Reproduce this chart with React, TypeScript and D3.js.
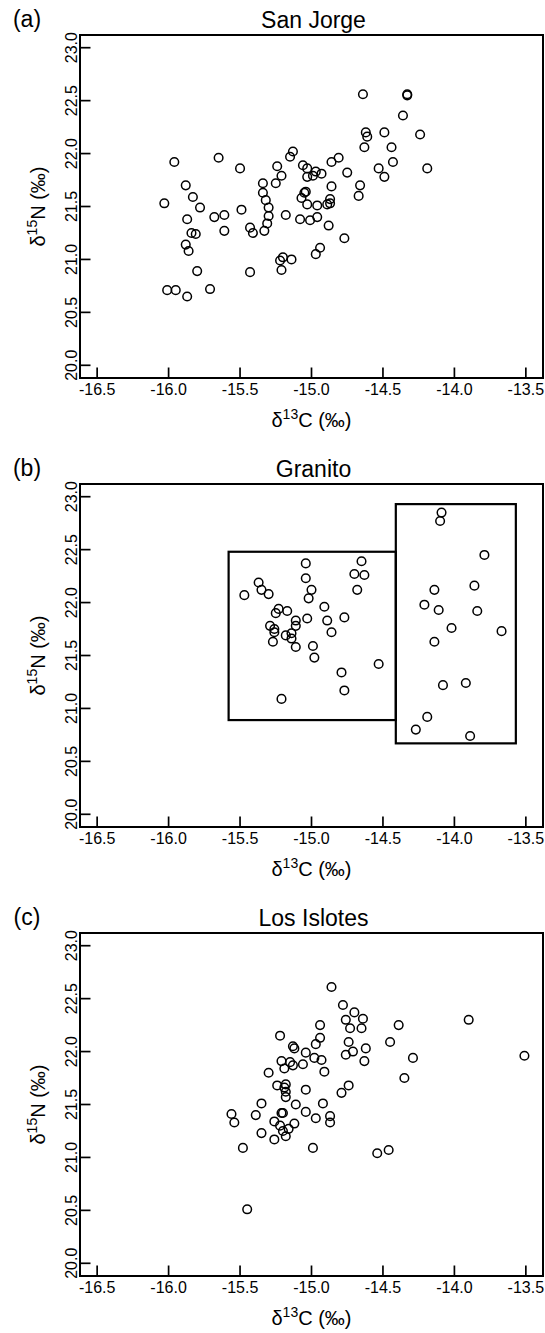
import * as d3 from 'd3'

// δ13C / δ15N values
const sanJorgeC = [
  -15.96, -15.65, -15.5, -15.13, -15.15, -15.24, -15.21, -15.25, -15.06, -15.03,
  -14.97, -14.93, -14.99, -15.03, -14.86, -14.81, -15.88, -15.83, -16.03, -15.78,
  -15.87, -15.84, -15.81, -15.88, -15.86, -15.68, -15.61, -15.61, -15.49, -15.34,
  -15.34, -15.32, -15.3, -15.3, -15.31, -15.33, -15.43, -15.41, -15.18, -15.08,
  -15.01, -14.96, -14.88, -15.04, -15.05, -15.07, -15.03, -14.96, -14.89, -14.87,
  -14.87, -14.86, -14.97, -14.94, -15.22, -15.2, -15.14, -15.21, -15.8, -15.43,
  -16.01, -15.95, -15.87, -15.71, -14.64, -14.33, -14.33, -14.36, -14.62, -14.61,
  -14.49, -14.24, -14.63, -14.44, -14.43, -14.53, -14.49, -14.19, -14.75, -14.66,
  -14.67, -14.77,
]
const sanJorgeN = [
  21.92, 21.96, 21.86, 22.02, 21.97, 21.88, 21.79, 21.72, 21.89, 21.86,
  21.83, 21.81, 21.79, 21.78, 21.92, 21.96, 21.7, 21.59, 21.53, 21.49,
  21.38, 21.25, 21.24, 21.14, 21.08, 21.4, 21.42, 21.27, 21.47, 21.72,
  21.63, 21.56, 21.49, 21.41, 21.34, 21.27, 21.3, 21.25, 21.42, 21.38,
  21.37, 21.4, 21.32, 21.64, 21.63, 21.58, 21.52, 21.51, 21.52, 21.53,
  21.57, 21.69, 21.05, 21.11, 20.99, 21.02, 21.0, 20.9, 20.89, 20.88,
  20.71, 20.71, 20.65, 20.72, 22.56, 22.56, 22.55, 22.36, 22.2, 22.16,
  22.2, 22.18, 22.06, 22.06, 21.92, 21.86, 21.78, 21.86, 21.82, 21.7,
  21.6, 21.2,
]

const granitoC = [
  -15.47, -15.37, -15.35, -15.3, -15.04, -15.04, -15.0, -15.02, -14.65, -14.7,
  -14.63, -14.68, -15.23, -15.25, -15.17, -14.91, -14.77, -15.03, -14.89, -14.86,
  -15.29, -15.26, -15.26, -15.27, -15.11, -15.11, -15.14, -15.18, -15.14, -15.11,
  -14.99, -14.98, -14.53, -14.79, -14.77, -15.21, -13.79, -14.14, -13.86, -14.21,
  -14.11, -13.84, -14.02, -13.67, -14.14, -14.08, -13.92, -14.19, -14.27, -13.89,
  -14.09, -14.1,
]
const granitoN = [
  22.07, 22.19, 22.12, 22.08, 22.37, 22.23, 22.12, 22.04, 22.39, 22.27,
  22.26, 22.12, 21.94, 21.9, 21.92, 21.96, 21.86, 21.85, 21.83, 21.72,
  21.78, 21.75, 21.72, 21.63, 21.83, 21.78, 21.71, 21.69, 21.66, 21.58,
  21.59, 21.48, 21.42, 21.34, 21.17, 21.09, 22.45, 22.12, 22.16, 21.98,
  21.93, 21.92, 21.76, 21.73, 21.63, 21.22, 21.24, 20.92, 20.8, 20.74,
  22.85, 22.77,
]
// [xmin, xmax, ymin, ymax]
const granitoBoxes = [
  [-15.58, -14.41, 20.89, 22.48],
  [-14.41, -13.57, 20.67, 22.93],
]

const islotesC = [
  -14.78, -14.7, -14.76, -14.64, -14.73, -14.65, -14.94, -14.39, -15.22, -14.94,
  -14.97, -14.74, -14.45, -15.13, -15.12, -15.04, -14.71, -14.62, -14.76, -14.63,
  -14.29, -14.98, -14.93, -15.21, -15.19, -15.15, -15.13, -15.06, -14.91, -15.3,
  -14.35, -14.74, -14.79, -15.24, -15.18, -15.19, -15.18, -15.18, -15.04, -15.11,
  -14.92, -15.35, -15.04, -15.56, -15.54, -15.39, -15.21, -15.2, -14.97, -14.87,
  -14.87, -15.26, -15.22, -15.12, -15.16, -15.2, -15.18, -15.35, -15.26, -15.48,
  -14.99, -14.54, -14.46, -15.45, -14.86, -13.9, -13.51,
]
const islotesN = [
  22.44, 22.37, 22.3, 22.31, 22.22, 22.22, 22.25, 22.25, 22.15, 22.13,
  22.07, 22.09, 22.09, 22.05, 22.03, 21.99, 22.0, 22.03, 21.97, 21.91,
  21.94, 21.94, 21.92, 21.91, 21.84, 21.9, 21.87, 21.88, 21.81, 21.8,
  21.75, 21.68, 21.61, 21.68, 21.69, 21.66, 21.62, 21.57, 21.64, 21.5,
  21.51, 21.51, 21.43, 21.41, 21.33, 21.4, 21.42, 21.42, 21.37, 21.39,
  21.33, 21.34, 21.3, 21.32, 21.27, 21.25, 21.2, 21.23, 21.17, 21.09,
  21.09, 21.04, 21.07, 20.51, 22.61, 22.3, 21.96,
]

const xTicks = [-16.5, -16.0, -15.5, -15.0, -14.5, -14.0, -13.5]
const yTicks = [20.0, 20.5, 21.0, 21.5, 22.0, 22.5, 23.0]

const FONT = '"Liberation Sans", Arial, sans-serif'
const LEFT = 80
const RIGHT = 543
const PH = 343
const TICK = 10.5

function Panel({ top, letter, title, cs, ns, boxes = [] }) {
  const x = d3.scaleLinear().domain([-16.62, -13.38]).range([LEFT, RIGHT])
  const y = d3.scaleLinear().domain([19.88, 23.12]).range([top + PH, top])
  const bottom = top + PH
  const cx = (LEFT + RIGHT) / 2

  return (
    <g fontFamily={FONT} fill="#000">
      <text x={27} y={top - 8} fontSize={23} textAnchor="middle">{letter}</text>
      <text x={cx + 2} y={top - 7} fontSize={23} textAnchor="middle">{title}</text>

      <rect x={LEFT} y={top} width={RIGHT - LEFT} height={PH} fill="none" stroke="#000" strokeWidth={2} />

      {xTicks.map((t) => (
        <g key={'x' + t}>
          <line x1={x(t)} x2={x(t)} y1={bottom} y2={bottom - TICK} stroke="#000" strokeWidth={1.7} />
          <text x={x(t)} y={bottom + 17} fontSize={16} textAnchor="middle">{t.toFixed(1)}</text>
        </g>
      ))}
      {yTicks.map((t) => (
        <g key={'y' + t}>
          <line x1={LEFT} x2={LEFT + TICK} y1={y(t)} y2={y(t)} stroke="#000" strokeWidth={1.7} />
          <text transform={`translate(77,${y(t)}) rotate(-90)`} fontSize={16} textAnchor="middle">
            {t.toFixed(1)}
          </text>
        </g>
      ))}

      {boxes.map((b, i) => (
        <rect
          key={'b' + i}
          x={x(b[0])}
          y={y(b[3])}
          width={x(b[1]) - x(b[0])}
          height={y(b[2]) - y(b[3])}
          fill="none"
          stroke="#000"
          strokeWidth={2.2}
        />
      ))}

      {cs.map((c, i) => (
        <circle key={i} cx={x(c)} cy={y(ns[i])} r={4.3} fill="none" stroke="#000" strokeWidth={1.5} />
      ))}

      <text x={cx} y={bottom + 49} fontSize={20} textAnchor="middle">
        δ<tspan dy={-8} fontSize={14}>13</tspan>
        <tspan dy={8}>C (‰)</tspan>
      </text>
      <text transform={`translate(45,${top + PH / 2}) rotate(-90)`} fontSize={20} textAnchor="middle">
        δ<tspan dy={-8} fontSize={14}>15</tspan>
        <tspan dy={8}>N (‰)</tspan>
      </text>
    </g>
  )
}

export default function App() {
  return (
    <svg width={545} height={1333} style={{ position: 'absolute', left: 0, top: 0, background: '#fff' }}>
      <Panel top={35} letter="(a)" title="San Jorge" cs={sanJorgeC} ns={sanJorgeN} />
      <Panel top={484} letter="(b)" title="Granito" cs={granitoC} ns={granitoN} boxes={granitoBoxes} />
      <Panel top={933} letter="(c)" title="Los Islotes" cs={islotesC} ns={islotesN} />
    </svg>
  )
}
